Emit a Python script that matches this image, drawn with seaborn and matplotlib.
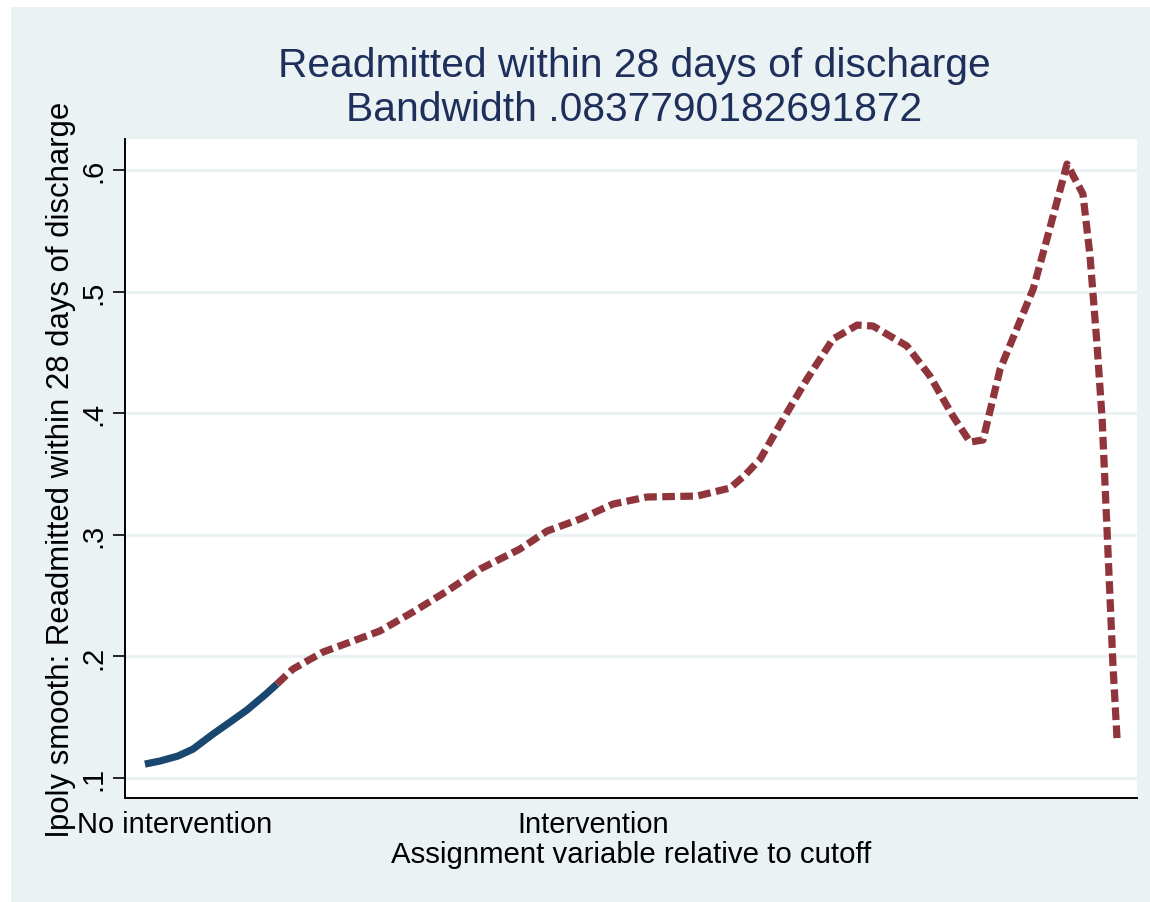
import numpy as np
import pandas as pd
import matplotlib
matplotlib.use("Agg")
import matplotlib.pyplot as plt
import seaborn as sns

# lpoly smooth values
x_control = [-0.072, -0.036, 0.007, 0.043, 0.091, 0.132, 0.172, 0.215, 0.244]
y_control = [0.1115, 0.1140, 0.1181, 0.1238, 0.1362, 0.1461, 0.1559, 0.1683, 0.1773]

x_treated = [0.244, 0.282, 0.354, 0.426, 0.490, 0.569, 0.651, 0.730, 0.825, 0.890,
             0.969, 1.048, 1.129, 1.249, 1.328, 1.364, 1.400, 1.455, 1.512, 1.574,
             1.632, 1.670, 1.751, 1.806, 1.861, 1.902, 1.933, 1.974, 2.053, 2.086,
             2.134, 2.172, 2.189, 2.206, 2.218, 2.237, 2.244, 2.254]
y_treated = [0.1773, 0.1896, 0.2036, 0.2127, 0.2209, 0.2365, 0.2538, 0.2719, 0.2883, 0.3031,
             0.3130, 0.3253, 0.3311, 0.3319, 0.3385, 0.3492, 0.3623, 0.3952, 0.4281, 0.4610,
             0.4725, 0.4717, 0.4553, 0.4306, 0.3977, 0.3763, 0.3780, 0.4363, 0.5021, 0.5433,
             0.6049, 0.5803, 0.5293, 0.4553, 0.3952, 0.2472, 0.1921, 0.1304]

x_ticks = [0, 1]
x_ticklabels = ["No intervention", "Intervention"]
y_ticks = [0.1, 0.2, 0.3, 0.4, 0.5, 0.6]
y_ticklabels = [".1", ".2", ".3", ".4", ".5", ".6"]

title = "Readmitted within 28 days of discharge\nBandwidth .0837790182691872"
xlab = "Assignment variable relative to cutoff"
ylab = "lpoly smooth: Readmitted within 28 days of discharge"

sns.set_theme(style="white")
plt.rcParams['font.family'] = ['Liberation Sans', 'DejaVu Sans']

bg = "#EAF2F3"
navy = "#1A476F"
maroon = "#90353B"

df_c = pd.DataFrame({"x": x_control, "y": y_control})
df_t = pd.DataFrame({"x": x_treated, "y": y_treated})

fig = plt.figure(figsize=(11.5, 9.03), dpi=100)
fig.patch.set_facecolor("white")
# stata style graph region
fig.patches.append(plt.Rectangle((11 / 1150, 0), 1, 1 - 8 / 903, transform=fig.transFigure,
                                 facecolor=bg, edgecolor="none", zorder=-5))

ax = fig.add_axes([125 / 1150, 1 - 799 / 903, (1137 - 125) / 1150, (799 - 140) / 903])
ax.set_zorder(2)
ax.set_facecolor("white")

sns.lineplot(data=df_c, x="x", y="y", ax=ax, color=navy, linewidth=5.2,
             errorbar=None, solid_capstyle="butt", zorder=3)
sns.lineplot(data=df_t, x="x", y="y", ax=ax, color=maroon, linewidth=5.2,
             errorbar=None, linestyle=(0, (1.75, 0.75)), dash_capstyle="butt", zorder=3)

ax.set_xlim(-0.1196, 2.3014)
ax.set_ylim(0.0836, 0.6255)

ax.set_yticks(y_ticks)
ax.set_yticklabels(y_ticklabels, rotation=90, va="center", fontsize=21)
ax.set_xticks(x_ticks)
ax.set_xticklabels(x_ticklabels, fontsize=20.9)

ax.grid(axis="y", color=bg, linewidth=2.2)
ax.grid(axis="x", visible=False)
ax.set_axisbelow(True)

ax.tick_params(axis="y", direction="out", length=9, width=1.2, color="black",
               left=True, pad=4, labelcolor="black")
ax.tick_params(axis="x", length=0, pad=9, labelcolor="black")

for s in ["top", "right"]:
    ax.spines[s].set_visible(False)
for s in ["left", "bottom"]:
    ax.spines[s].set_color("black")
    ax.spines[s].set_linewidth(1.4)

ax.set_xlabel(xlab, fontsize=21.2, color="black", labelpad=1)
ax.set_ylabel(ylab, fontsize=22.4, color="black", labelpad=2)

fig.text(634 / 1150, 1 - 88 / 903, title, ha="center", va="center",
         fontsize=29.3, color="#1E2F5B", linespacing=1.2)

fig.savefig("out.png", dpi=100, facecolor=fig.get_facecolor())
